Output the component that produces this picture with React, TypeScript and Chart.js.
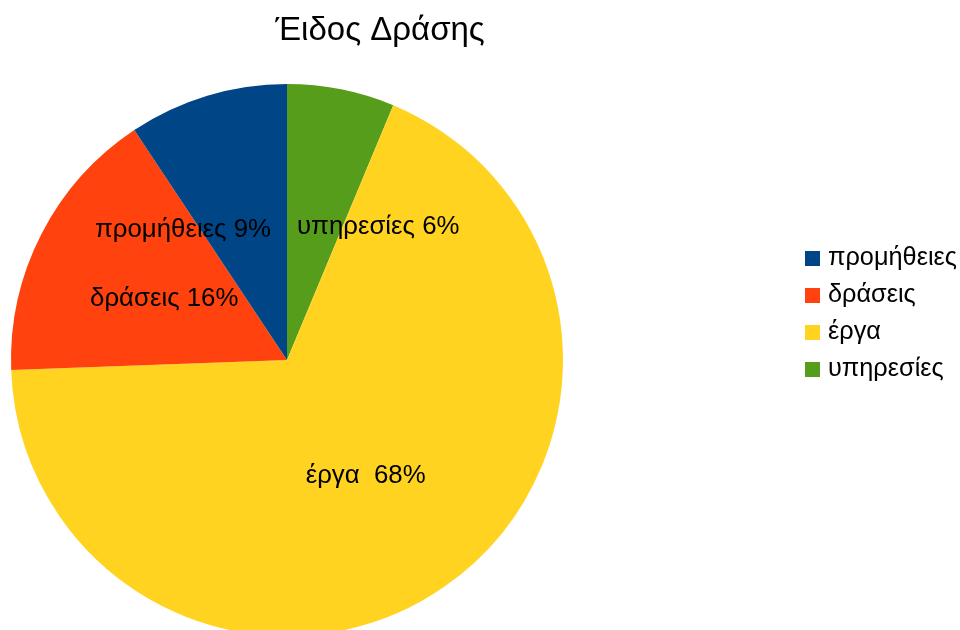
import React, { useEffect, useRef } from "react";
import { Chart, registerables } from "chart.js";

Chart.register(...registerables);

const TITLE = "Έιδος Δράσης";
// legend order (LibreOffice draws these counter-clockwise from 12 o'clock)
const categories = ["προμήθειες", "δράσεις", "έργα ", "υπηρεσίες"];
const values = [9.33, 16.25, 68.13, 6.29];
const colors = ["#004586", "#ff420e", "#ffd320", "#579d1c"];

const FONT = "'Liberation Sans', Arial, sans-serif";

// draw clockwise in reverse order so the visual order matches counter-clockwise
const drawLabels = [...categories].reverse();
const drawValues = [...values].reverse();
const drawColors = [...colors].reverse();

const sliceLabelPlugin = {
  id: "sliceLabels",
  afterDatasetsDraw(chart: any) {
    const ctx = chart.ctx;
    const meta = chart.getDatasetMeta(0);
    const data = chart.data.datasets[0].data as number[];
    const total = data.reduce((a, b) => a + b, 0);
    ctx.save();
    ctx.font = `25.8px ${FONT}`;
    ctx.fillStyle = "#000";
    ctx.textAlign = "center";
    ctx.textBaseline = "middle";
    const items = meta.data.map((arc: any, i: number) => {
      const p = arc.getCenterPoint();
      const text = `${chart.data.labels[i]} ${Math.round((data[i] / total) * 100)}%`;
      const w = ctx.measureText(text).width;
      return { x: p.x, y: p.y + 2, w, h: 26, text };
    });
    const gap = 26;
    for (let a = 0; a < items.length; a++) {
      for (let b = a + 1; b < items.length; b++) {
        const A = items[a];
        const B = items[b];
        if (Math.abs(A.y - B.y) >= (A.h + B.h) / 2) continue;
        const need = (A.w + B.w) / 2 + gap;
        const d = Math.abs(A.x - B.x);
        if (d >= need) continue;
        const shift = (need - d) / 2;
        if (A.x >= B.x) {
          A.x += shift;
          B.x -= shift;
        } else {
          A.x -= shift;
          B.x += shift;
        }
      }
    }
    items.forEach((it: any) => ctx.fillText(it.text, it.x, it.y));
    ctx.restore();
  },
};

const titleLegendPlugin = {
  id: "titleLegend",
  afterDraw(chart: any) {
    const ctx = chart.ctx;
    ctx.save();
    ctx.fillStyle = "#000";
    ctx.font = `33px ${FONT}`;
    ctx.textAlign = "center";
    ctx.textBaseline = "alphabetic";
    ctx.fillText(TITLE, 380, 40);

    ctx.font = `25.3px ${FONT}`;
    ctx.textAlign = "left";
    ctx.textBaseline = "middle";
    categories.forEach((c, i) => {
      const cy = 258.5 + i * 37;
      ctx.fillStyle = colors[i];
      ctx.fillRect(805, cy - 7.5, 15, 15);
      ctx.fillStyle = "#000";
      ctx.fillText(c, 828, cy);
    });
    ctx.restore();
  },
};

export default function App() {
  const ref = useRef<HTMLCanvasElement>(null);
  useEffect(() => {
    document.body.style.margin = "0";
    document.body.style.overflow = "hidden";
    const chart = new Chart(ref.current!, {
      type: "pie",
      data: {
        labels: drawLabels,
        datasets: [
          {
            data: drawValues,
            backgroundColor: drawColors,
            borderWidth: 0,
            radius: 276,
            clip: false,
          } as any,
        ],
      },
      options: {
        responsive: false,
        animation: false,
        events: [],
        layout: { padding: { left: 0, right: 386, top: 90, bottom: 0 } },
        plugins: {
          legend: { display: false },
          title: { display: false },
          tooltip: { enabled: false },
        },
      },
      plugins: [sliceLabelPlugin, titleLegendPlugin],
    });
    return () => chart.destroy();
  }, []);
  return (
    <div style={{ position: "fixed", left: 0, top: 0, width: 960, height: 630, background: "#fff" }}>
      <canvas ref={ref} width={960} height={630} />
    </div>
  );
}
